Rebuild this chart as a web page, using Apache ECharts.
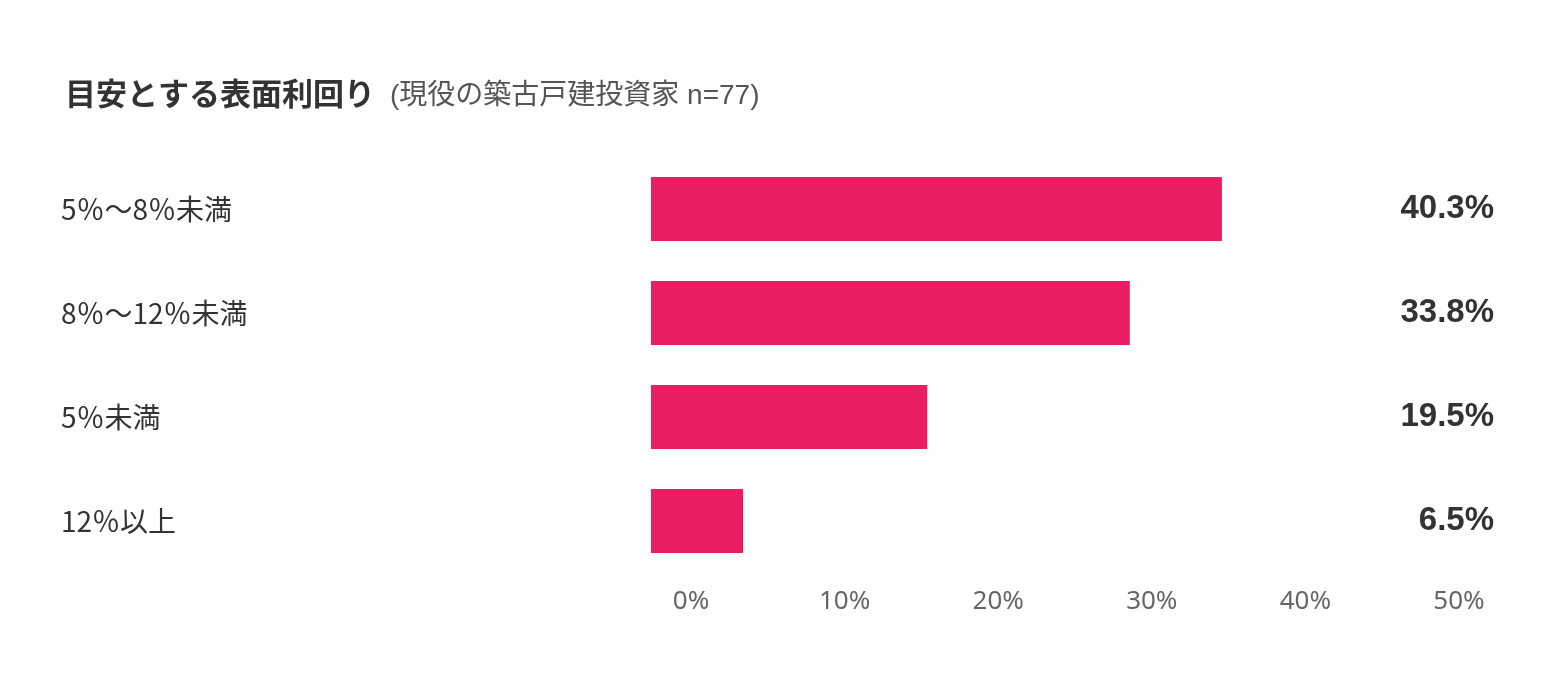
<!DOCTYPE html>
<html><head><meta charset="utf-8">
<script src="https://cdn.jsdelivr.net/npm/echarts@6/dist/echarts.min.js"></script>
<style>html,body{margin:0;padding:0;background:#fff}#c{width:1562px;height:696px}</style>
</head><body><div id="c"></div>
<script>
const categories = ['5％〜8％未満', '8％〜12％未満', '5％未満', '12％以上'];
const values = [40.3, 33.8, 19.5, 6.5];
const tickValues = [0, 10, 20, 30, 40, 50];
const titleMain = '目安とする表面利回り';
const titleSub = '(現役の築古戸建投資家 n=77)';

const JP = '"Noto Sans CJK JP", "Noto Sans", sans-serif';
const chart = echarts.init(document.getElementById('c'), null, {renderer: 'canvas'});
chart.setOption({
  backgroundColor: '#ffffff',
  animation: false,
  title: {
    left: 60, top: 71,
    text: '{a|' + titleMain + '}{b|' + titleSub + '}',
    textStyle: {
      rich: {
        a: {fontFamily: JP, fontSize: 31, fontWeight: 'bold', color: '#333', padding: [0, 15, 0, 0]},
        b: {fontFamily: '"Liberation Sans", "Noto Sans CJK JP", sans-serif', fontSize: 28, fontWeight: 'normal', color: '#555', padding: [6, 0, 0, 0]}
      }
    }
  },
  grid: [
    {left: 651, top: 157, width: 850, height: 416},
    {left: 691, top: 578, width: 768, height: 1}
  ],
  xAxis: [
    {gridIndex: 0, type: 'value', min: 0, max: 60, show: false},
    {gridIndex: 1, type: 'value', min: tickValues[0], max: tickValues[tickValues.length - 1], interval: tickValues[1] - tickValues[0],
     axisLine: {show: false}, axisTick: {show: false}, splitLine: {show: false},
     axisLabel: {formatter: '{value}%', fontFamily: '"Noto Sans", sans-serif', fontSize: 26, color: '#666', margin: 10}}
  ],
  yAxis: [
    {gridIndex: 0, type: 'category', data: categories, inverse: true,
     axisLine: {show: false}, axisTick: {show: false},
     axisLabel: {align: 'left', margin: 590, fontFamily: JP, fontSize: 28, color: '#333'}},
    {gridIndex: 0, type: 'category', data: values.map(v => v.toFixed(1) + '%'), inverse: true, position: 'right',
     axisLine: {show: false}, axisTick: {show: false},
     axisLabel: {align: 'right', margin: -7, fontFamily: '"Liberation Sans", Arial, sans-serif', fontSize: 33, fontWeight: 'bold', color: '#333'}},
    {gridIndex: 1, type: 'value', show: false}
  ],
  series: [{
    type: 'bar', xAxisIndex: 0, yAxisIndex: 0,
    data: values, barWidth: 64,
    itemStyle: {color: '#E91E63'}
  }]
});
</script></body></html>
